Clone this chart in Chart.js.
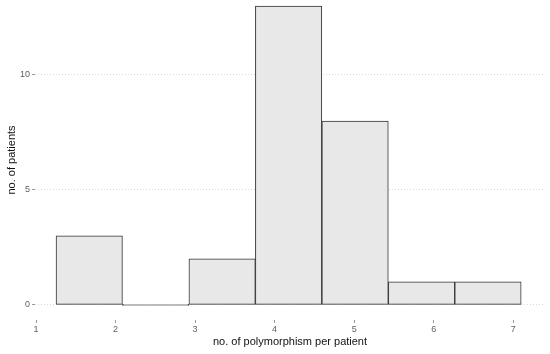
<!DOCTYPE html>
<html>
<head>
<meta charset="utf-8">
<script src="https://cdn.jsdelivr.net/npm/chart.js@4/dist/chart.umd.min.js"></script>
<style>
html,body{margin:0;padding:0;background:#fff;}
#wrap{width:550px;height:354px;position:relative;}
</style>
</head>
<body>
<div id="wrap"><canvas id="c" width="550" height="354"></canvas></div>
<script>
// histogram bins (centers on the x value scale) and counts
const binCenters = [1.669, 2.505, 3.340, 4.176, 5.012, 5.848, 6.683];
const counts = [3, 0, 2, 13, 8, 1, 1];
const xTicks = [1, 2, 3, 4, 5, 6, 7];
const yTicks = [0, 5, 10];
const xTitle = 'no. of polymorphism per patient';
const yTitle = 'no. of patients';

const data = {
  datasets: [{
    data: binCenters.map((x, i) => ({x: x, y: counts[i]})),
    backgroundColor: '#e8e8e8',
    borderColor: '#333333',
    borderWidth: 1,
    borderSkipped: false,
    minBarLength: 1,
    barPercentage: 1.0,
    categoryPercentage: 1.0,
    grouped: false
  }]
};

new Chart(document.getElementById('c'), {
  type: 'bar',
  data: data,
  options: {
    responsive: false,
    animation: false,
    events: [],
    layout: {padding: {left: 0, right: 5, top: 0, bottom: 0}},
    plugins: {legend: {display: false}, tooltip: {enabled: false}},
    scales: {
      x: {
        type: 'linear',
        offset: false,
        min: 0.987,
        max: 7.40,
        afterBuildTicks: s => { s.ticks = xTicks.map(v => ({value: v})); },
        afterFit: s => { s.height = 34; s.paddingLeft = 0; s.paddingRight = 0; },
        grid: {display: true, offset: false, drawOnChartArea: false, drawTicks: true, tickLength: 3, color: '#999999'},
        border: {display: false},
        ticks: {font: {family: 'Liberation Sans, Arial', size: 9}, color: '#5f5f5f', padding: 1, maxRotation: 0, autoSkip: false},
        title: {display: true, text: xTitle, font: {family: 'Liberation Sans, Arial', size: 11}, color: '#111111', padding: {top: 0, bottom: 5}}
      },
      y: {
        min: -0.655,
        max: 13.26,
        afterBuildTicks: s => { s.ticks = yTicks.map(v => ({value: v})); },
        afterFit: s => { s.width = 35; s.paddingTop = 0; s.paddingBottom = 0; },
        grid: {display: true, drawTicks: true, tickLength: 3, color: '#d9d9d9', tickColor: '#999999', tickBorderDash: [], borderDash: [1, 2]},
        border: {display: false, dash: [1, 2]},
        ticks: {font: {family: 'Liberation Sans, Arial', size: 9}, color: '#5f5f5f', padding: 2},
        title: {display: true, text: yTitle, font: {family: 'Liberation Sans, Arial', size: 11}, color: '#111111', padding: {top: 5, bottom: 0}}
      }
    }
  }
});
</script>
</body>
</html>
